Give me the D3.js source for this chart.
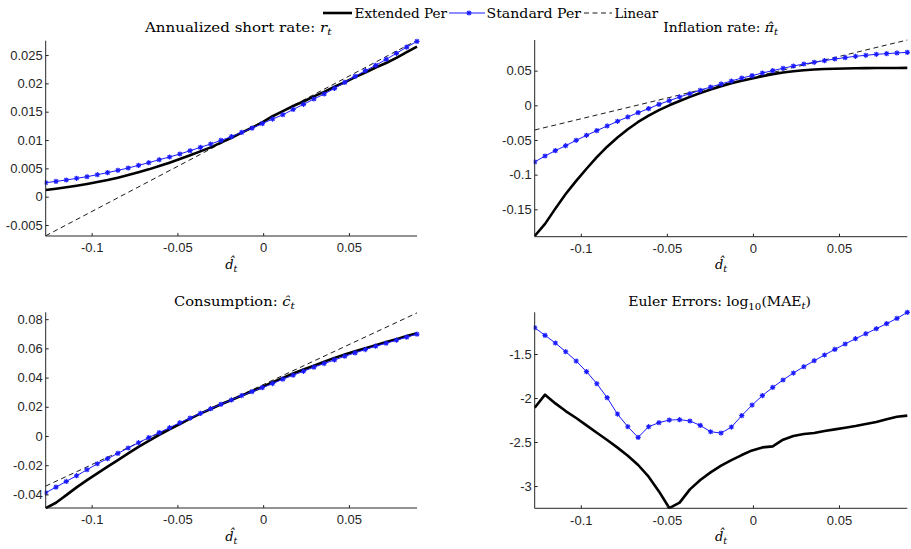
<!DOCTYPE html>
<html><head><meta charset="utf-8">
<script src="https://cdn.jsdelivr.net/npm/d3@7"></script>
<style>
html,body{margin:0;padding:0;background:#fff;}
svg{display:block;}
.tick text{font-family:"Liberation Sans",Arial,sans-serif;font-size:13px;fill:#262626;}
.ttl{font-family:"DejaVu Serif",serif;font-size:13px;fill:#000;}
.leg{font-family:"DejaVu Serif",serif;font-size:13.7px;fill:#000;}
</style></head>
<body><svg id="c" width="911" height="549"></svg>
<script>
// x grid (d-hat)
const dGrid = [-0.1268,-0.1208,-0.1148,-0.1088,-0.1027,-0.0967,-0.0907,-0.0847,-0.0787,-0.0727,
 -0.0667,-0.0606,-0.0546,-0.0486,-0.0426,-0.0366,-0.0306,-0.0246,-0.0185,-0.0125,
 -0.0065,-0.0005,0.0055,0.0115,0.0175,0.0235,0.0296,0.0356,0.0416,0.0476,
 0.0536,0.0596,0.0656,0.0717,0.0777,0.0837,0.0897];
const xTicks = [-0.1,-0.05,0,0.05];
const seriesNames = ["Extended Per","Standard Per","Linear"];
const linX = [-0.1268,0.0897];

// Panel 1: annualized short rate
const rExt = [0.00118,0.0014,0.00165,0.00193,0.00224,0.00258,0.00294,0.00336,0.00382,0.0043,
 0.00482,0.0054,0.0060,0.00664,0.0073,0.0080,0.0087,0.00955,0.0104,0.0113,
 0.01218,0.0131,0.0142,0.0151,0.0160,0.0168,0.0177,0.0185,0.0194,0.0202,
 0.0211,0.0219,0.0228,0.0236,0.0245,0.0255,0.0265];
const rStd = [0.00247,0.0027,0.00294,0.00324,0.00353,0.00388,0.00424,0.00465,0.00506,0.00553,
 0.0060,0.00653,0.0070,0.00753,0.00812,0.0087,0.0093,0.00994,0.0106,0.01135,
 0.0121,0.0129,0.0137,0.01447,0.0154,0.0163,0.01724,0.01812,0.01912,0.02018,
 0.02124,0.02224,0.02318,0.02424,0.0253,0.0264,0.02741];
const rLin = [-0.0069,0.0276];
const rTicks = [-0.005,0,0.005,0.01,0.015,0.02,0.025];

// Panel 2: inflation
const piExt = [-0.1885,-0.171,-0.149,-0.128,-0.109,-0.0915,-0.0748,-0.0597,-0.0465,-0.0345,
 -0.0240,-0.0150,-0.0070,0.0000,0.0063,0.0122,0.0177,0.0228,0.0276,0.0318,
 0.0355,0.0388,0.0420,0.0450,0.0474,0.0492,0.0506,0.0516,0.0523,0.0528,
 0.0532,0.0535,0.0537,0.0538,0.0539,0.0539,0.054];
const piStd = [-0.0817,-0.0731,-0.0654,-0.0582,-0.0505,-0.0433,-0.0365,-0.0298,-0.0231,-0.0168,
 -0.0106,-0.0048,0.0014,0.0067,0.0120,0.0168,0.0216,0.0264,0.0308,0.0351,
 0.0394,0.0428,0.0466,0.0500,0.0534,0.0567,0.0596,0.0620,0.0644,0.0668,
 0.0688,0.0707,0.0721,0.0736,0.0745,0.0755,0.0764];
const piLin = [-0.0356,0.0942];
const piTicks = [-0.15,-0.1,-0.05,0,0.05];

// Panel 3: consumption
const cExt = [-0.0494,-0.0457,-0.0405,-0.0352,-0.0302,-0.0256,-0.021,-0.0165,-0.0119,-0.0075,
 -0.0034,0.0007,0.0046,0.0082,0.0119,0.0153,0.0185,0.0217,0.0247,0.0277,
 0.0306,0.0336,0.0368,0.0398,0.0428,0.0455,0.0482,0.0509,0.0535,0.0558,
 0.058,0.0601,0.0622,0.0643,0.0663,0.0684,0.0704];
const cStd = [-0.0389,-0.035,-0.0311,-0.0272,-0.0231,-0.019,-0.0155,-0.0119,-0.0082,-0.0046,
 -0.0011,0.0023,0.0057,0.0091,0.0123,0.0155,0.0187,0.0217,0.0247,0.0277,
 0.0304,0.0331,0.0359,0.0389,0.0416,0.0443,0.0471,0.0496,0.0521,0.0546,
 0.0569,0.0592,0.0615,0.0635,0.0656,0.0677,0.0697];
const cLin = [-0.0343,0.0843];
const cTicks = [-0.04,-0.02,0,0.02,0.04,0.06,0.08];

// Panel 4: Euler errors
const eeExt = [-2.11,-1.962,-2.061,-2.148,-2.227,-2.311,-2.394,-2.477,-2.564,-2.655,
 -2.761,-2.894,-3.061,-3.25,-3.189,-3.038,-2.932,-2.845,-2.769,-2.705,
 -2.648,-2.595,-2.561,-2.549,-2.473,-2.432,-2.409,-2.398,-2.375,-2.356,
 -2.337,-2.318,-2.295,-2.273,-2.242,-2.212,-2.2];
const eeStd = [-1.2008,-1.288,-1.375,-1.4735,-1.58,-1.70,-1.837,-1.996,-2.182,-2.326,
 -2.447,-2.326,-2.280,-2.25,-2.246,-2.261,-2.311,-2.383,-2.398,-2.33,
 -2.20,-2.08,-1.973,-1.879,-1.795,-1.716,-1.644,-1.576,-1.511,-1.447,
 -1.386,-1.326,-1.269,-1.212,-1.155,-1.095,-1.027];
const eeTicks = [-3,-2.5,-2,-1.5];

const svg = d3.select("#c");
const fmt = v => { if (Math.abs(v) < 1e-12) return "0"; return String(+v.toFixed(4)); };

// fit a start-anchored text to a target width (horizontal scale only)
function fit(t, x, y, w) {
  t.attr("x",0).attr("y",0);
  const bw = t.node().getBBox().width;
  const s = bw > 0 ? w / bw : 1;
  t.attr("transform", `translate(${x},${y}) scale(${s},1)`);
}

const panels = [
 {x0:45.7,x1:417,y0:40.7,y1:236,yd:[-0.00694,0.02753],ext:rExt,std:rStd,lin:rLin,yt:rTicks,title:"short",tl:145,tw:188,ty:32,xl:269},
 {x0:534.7,x1:907.3,y0:40,y1:236.7,yd:[-0.1895,0.0942],ext:piExt,std:piStd,lin:piLin,yt:piTicks,title:"pi",tl:663.3,tw:115,ty:32,xl:269},
 {x0:45.7,x1:417,y0:312.3,y1:508,yd:[-0.0493,0.0847],ext:cExt,std:cStd,lin:cLin,yt:cTicks,title:"c",tl:174,tw:121,ty:305.5,xl:541},
 {x0:534.7,x1:907.3,y0:312.3,y1:508.3,yd:[-3.253,-1.026],ext:eeExt,std:eeStd,lin:null,yt:eeTicks,title:"ee",tl:628.3,tw:183,ty:305.5,xl:541}
];

const star = "M-2.6,0H2.6M0,-2.6V2.6M-1.9,-1.9L1.9,1.9M-1.9,1.9L1.9,-1.9";
const blue = "#1a1aff";
const sub = "9.5px";

panels.forEach((p,k) => {
  const x = d3.scaleLinear().domain([dGrid[0], dGrid[dGrid.length-1]]).range([p.x0,p.x1]);
  const y = d3.scaleLinear().domain(p.yd).range([p.y1,p.y0]);
  const g = svg.append("g");
  const cid = "clip"+k;
  svg.append("clipPath").attr("id",cid).append("rect")
    .attr("x",p.x0-1).attr("y",p.y0-4).attr("width",p.x1-p.x0+5).attr("height",p.y1-p.y0+5);

  const line = d3.line().x((d,i)=>x(dGrid[i])).y(d=>y(d));
  const plot = g.append("g").attr("clip-path",`url(#${cid})`);
  if (p.lin) {
    plot.append("path").attr("d", d3.line().x((d,i)=>x(linX[i])).y(d=>y(d))(p.lin))
      .attr("fill","none").attr("stroke","#000").attr("stroke-width",0.9).attr("stroke-dasharray","5,3.5");
  }
  plot.append("path").attr("d",line(p.ext)).attr("fill","none").attr("stroke","#000")
    .attr("stroke-width",2.6).attr("stroke-linejoin","round");
  plot.append("path").attr("d",line(p.std)).attr("fill","none").attr("stroke",blue)
    .attr("stroke-width",1);
  plot.selectAll(".m").data(p.std).join("path").attr("class","m")
    .attr("transform",(d,i)=>`translate(${x(dGrid[i])},${y(d)})`)
    .attr("d",star).attr("stroke",blue).attr("stroke-width",1.1).attr("fill","none");

  // axes
  const xa = g.append("g").attr("transform",`translate(0,${p.y1})`)
    .call(d3.axisBottom(x).tickValues(xTicks).tickFormat(fmt).tickSize(-3).tickPadding(7));
  const ya = g.append("g").attr("transform",`translate(${p.x0},0)`)
    .call(d3.axisLeft(y).tickValues(p.yt).tickFormat(fmt).tickSize(-3).tickPadding(3));
  xa.select(".domain").attr("stroke","#262626").attr("d",`M${p.x0},0H${p.x1}`);
  ya.select(".domain").attr("stroke","#262626").attr("d",`M0,${p.y1}V${p.y0}`);
  xa.selectAll(".tick line").attr("stroke","#262626");
  ya.selectAll(".tick line").attr("stroke","#262626");
  xa.selectAll(".tick text").attr("dy","0.71em");

  // x label d-hat_t
  const xl = g.append("text").attr("class","ttl").attr("text-anchor","middle")
    .attr("x",(p.x0+p.x1)/2).attr("y",p.xl);
  xl.append("tspan").attr("font-style","italic").text("d\u0302");
  xl.append("tspan").attr("font-style","italic").attr("font-size",sub).attr("dy",3).text("t");

  // titles
  const t = g.append("text").attr("class","ttl");
  if (p.title==="short") {
    t.append("tspan").text("Annualized short rate: ");
    t.append("tspan").attr("font-style","italic").text("r");
    t.append("tspan").attr("font-style","italic").attr("font-size",sub).attr("dy",3).text("t");
  } else if (p.title==="pi") {
    t.append("tspan").text("Inflation rate: ");
    t.append("tspan").attr("font-style","italic").text("\u03C0\u0302");
    t.append("tspan").attr("font-style","italic").attr("font-size",sub).attr("dy",3).text("t");
  } else if (p.title==="c") {
    t.append("tspan").text("Consumption: ");
    t.append("tspan").attr("font-style","italic").text("\u0109");
    t.append("tspan").attr("font-style","italic").attr("font-size",sub).attr("dy",3).text("t");
  } else {
    t.append("tspan").text("Euler Errors: log");
    t.append("tspan").attr("font-size",sub).attr("dy",4).text("10");
    t.append("tspan").attr("dy",-4).text("(MAE");
    t.append("tspan").attr("font-style","italic").attr("font-size",sub).attr("dy",3).text("t");
    t.append("tspan").attr("dy",-3).text(")");
  }
  fit(t, p.tl, p.ty, p.tw);
});

// legend
const lg = svg.append("g");
const ly = 13;
lg.append("line").attr("x1",323).attr("x2",352).attr("y1",ly).attr("y2",ly).attr("stroke","#000").attr("stroke-width",2.6);
fit(lg.append("text").attr("class","leg").text(seriesNames[0]), 354.5, 17.5, 93);
lg.append("line").attr("x1",449).attr("x2",485).attr("y1",ly).attr("y2",ly).attr("stroke",blue).attr("stroke-width",1);
lg.append("path").attr("d",star).attr("transform",`translate(469,${ly})`).attr("stroke",blue).attr("stroke-width",1.1);
fit(lg.append("text").attr("class","leg").text(seriesNames[1]), 486.5, 17.5, 95);
lg.append("line").attr("x1",584).attr("x2",612).attr("y1",ly).attr("y2",ly).attr("stroke","#000").attr("stroke-width",0.9).attr("stroke-dasharray","5,3.5");
fit(lg.append("text").attr("class","leg").text(seriesNames[2]), 614.5, 17.5, 44);
</script></body></html>
